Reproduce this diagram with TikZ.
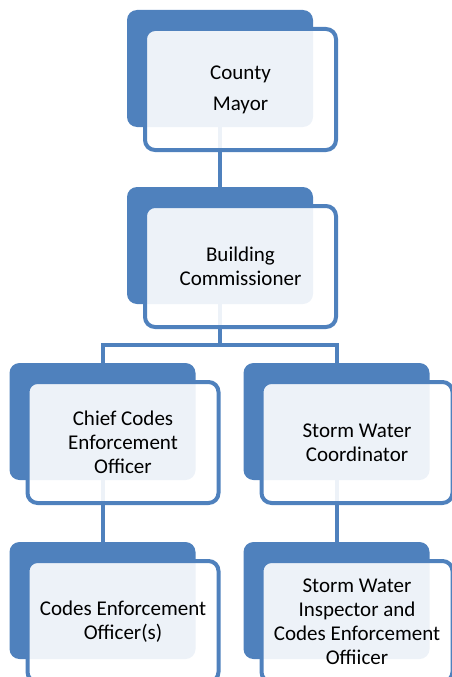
\documentclass[tikz,border=0pt]{standalone}
\usepackage{fontspec}
\setmainfont{Carlito}
\usetikzlibrary{positioning, calc}
\definecolor{ocBlue}{HTML}{4F81BD}

\begin{document}
\begin{tikzpicture}[
    x=1pt, y=-1pt,
    back/.style={fill=ocBlue, rounded corners=10pt, minimum width=186pt, minimum height=117pt,
                 inner sep=0pt},
    front/.style={draw=ocBlue, line width=4pt, rounded corners=10pt, fill=white, fill opacity=0.9,
                  text opacity=1, minimum width=191pt, minimum height=121pt, inner sep=2pt,
                  align=center, font=\fontsize{21}{24}\selectfont, text=black},
    link/.style={draw=ocBlue, line width=4pt},
  ]
  \useasboundingbox (0,0) rectangle (451,677);
  % rows of the back boxes; the front box sits 20.5 right, 21 down
  \def\ya{68.5}\def\yb{245.5}\def\yc{421.5}\def\yd{600.5}
  \def\xl{102.5}\def\xm{220}\def\xr{336.5}
  \node[back] (mayorbk) at (\xm,\ya) {};
  \node[back] (commbk)  at (\xm,\yb) {};
  \node[back] (chiefbk) at (\xl,\yc) {};
  \node[back] (stormbk) at (\xr,\yc) {};
  \node[back] (codesbk) at (\xl,\yd) {};
  \node[back] (inspbk)  at (\xr,\yd) {};

  \coordinate (fork) at (\xm,345);
  \draw[link] (mayorbk) -- (commbk);
  \draw[link] (commbk) -- (fork);
  \draw[link] (fork) -| (chiefbk);
  \draw[link] (fork) -| (stormbk);
  \draw[link] (chiefbk) -- (codesbk);
  \draw[link] (stormbk) -- (inspbk);

  \node[front] (mayor) at ($(mayorbk)+(20.5,21)$) {County\\[7pt]Mayor};
  \node[front] (comm)  at ($(commbk)+(20.5,21)$)  {Building\\Commissioner};
  \node[front] (chief) at ($(chiefbk)+(20.5,21)$) {Chief Codes\\Enforcement\\Officer};
  \node[front] (storm) at ($(stormbk)+(20.5,21)$) {Storm Water\\Coordinator};
  \node[front] (codes) at ($(codesbk)+(20.5,21)$) {Codes Enforcement\\Officer(s)};
  \node[front] (insp)  at ($(inspbk)+(20.5,21)$)  {Storm Water\\Inspector and\\Codes Enforcement\\Offiicer};
\end{tikzpicture}
\end{document}
